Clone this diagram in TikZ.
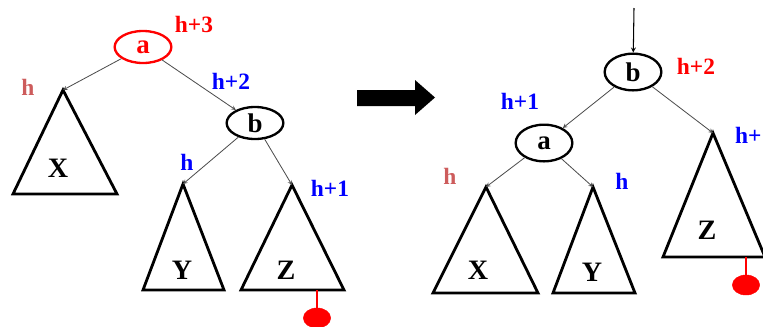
\documentclass[tikz,border=0pt]{standalone}
\usepackage{fontspec}
\setmainfont{Liberation Serif}
\usepackage{xcolor}
\usetikzlibrary{shapes,arrows,positioning}

\definecolor{hred}{RGB}{205,92,92}

\begin{document}
\begin{tikzpicture}[x=0.03cm,y=-0.03cm,
  knot/.style={draw, line width=2pt, ellipse, inner sep=0pt, minimum width=1.7cm, minimum height=0.96cm, font=\fontsize{23}{25}\selectfont\bfseries},
  subtree/.style={draw, line width=2.4pt, line join=miter},
  treename/.style={font=\fontsize{24}{26}\selectfont\bfseries},
  hlabel/.style={font=\fontsize{20}{22}\selectfont\bfseries},
  edge/.style={->, >=stealth, black!70, line width=0.7pt},
  leaf/.style={draw=red, fill=red, ellipse, inner sep=0pt, minimum width=0.82cm, minimum height=0.6cm},
  ]
\useasboundingbox (0,0) rectangle (763,326);

% before the rotation
\node[knot, red] (a1) at (143,47) {a};
\node[knot] (b1) at (255,123) {b};
\coordinate (x1) at (63,90);
\coordinate (y1) at (183,184);
\coordinate (z1) at (292,185);
\draw[subtree] (x1) -- ++(54,104) -- ++(-104,0) -- cycle;
\draw[subtree] (y1) -- ++(41,106) -- ++(-81,0) -- cycle;
\draw[subtree] (z1) -- ++(52,105) -- ++(-103,0) -- cycle;
\node[treename] (nx1) at (58,168) {X};
\node[treename] (ny1) at (182,270) {Y};
\node[treename] (nz1) at (286,270) {Z};
\draw[edge] (a1) -- (x1);
\draw[edge] (a1) -- (b1);
\draw[edge] (b1) -- (y1);
\draw[edge] (b1) -- (z1);
\coordinate (s1) at (317,290);
\node[leaf] (l1) at (317,318) {};
\draw[red, line width=1pt] (s1) -- (l1);
\node[hlabel, hred] (hx1) at (28,87) {h};
\node[hlabel, red] (ha1) at (194,24) {h+3};
\node[hlabel, blue] (hb1) at (231,81) {h+2};
\node[hlabel, blue] (hy1) at (187,162) {h};
\node[hlabel, blue] (hz1) at (330,188) {h+1};

% big arrow
\fill[black] (357,90) -- (415,90) -- (415,80) -- (435,97.5) -- (415,115) -- (415,106) -- (357,106) -- cycle;

% after the rotation
\coordinate (top) at (634,8);
\node[knot, minimum height=1.1cm] (b2) at (633,72) {b};
\node[knot, minimum height=1.1cm] (a2) at (544,143) {a};
\coordinate (x2) at (486,187);
\coordinate (y2) at (593,187);
\coordinate (z2) at (713,133);
\draw[subtree] (x2) -- ++(52,106) -- ++(-105,0) -- cycle;
\draw[subtree] (y2) -- ++(42,106) -- ++(-82,0) -- cycle;
\draw[subtree] (z2) -- ++(52,124) -- ++(-102,0) -- cycle;
\node[treename] (nx2) at (478,270) {X};
\node[treename] (ny2) at (592,272) {Y};
\node[treename] (nz2) at (707,230) {Z};
\draw[->, >=stealth, black, line width=0.9pt] (top) -- (b2);
\draw[edge] (b2) -- (a2);
\draw[edge] (b2) -- (z2);
\draw[edge] (a2) -- (x2);
\draw[edge] (a2) -- (y2);
\coordinate (s2) at (746,257);
\node[leaf] (l2) at (746,285) {};
\draw[red, line width=1pt] (s2) -- (l2);
\node[hlabel, red] (hb2) at (696,66) {h+2};
\node[hlabel, blue] (ha2) at (520,101) {h+1};
\node[hlabel, hred] (hx2) at (450,176) {h};
\node[hlabel, blue] (hy2) at (622,181) {h};
\node[hlabel, blue, anchor=west] (hz2) at (731,135) {h+1};
\end{tikzpicture}
\end{document}
